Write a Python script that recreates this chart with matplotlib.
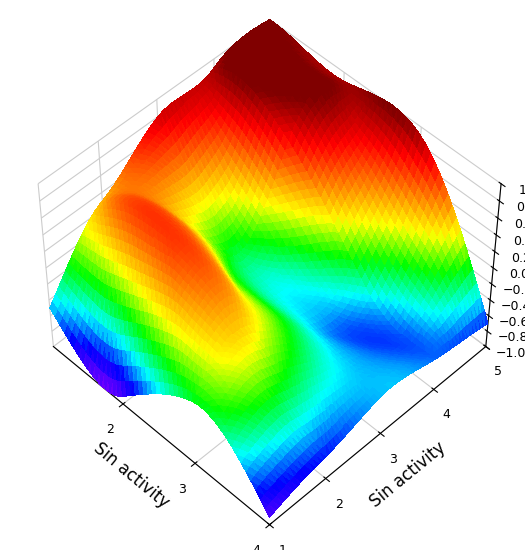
import numpy as np
import matplotlib
matplotlib.use("Agg")
import matplotlib.pyplot as plt
import matplotlib.tri as mtri
from matplotlib.colors import LinearSegmentedColormap

x_vals = [1, 2, 3, 4]
y_vals = [1, 2, 3, 4, 5]
z_vals = [
    [-0.5, 0.3, 0.8, 0.9, 1.0],
    [-0.9, 0.6, -0.2, 0.7, 0.9],
    [-0.2, 0.2, -0.4, -0.3, 0.9],
    [-0.9, -0.7, -0.5, -0.6, -0.7],
]
z_ticks = [-1.0, -0.8, -0.6, -0.4, -0.2, 0.0, 0.2, 0.4, 0.6, 0.8, 1.0]

cmap = LinearSegmentedColormap.from_list("c", ["#8000ff", "#0000ff", "#00ffff", "#00ff00", "#ffff00", "#ff8000", "#ff0000", "#800000"])

X, Y = np.meshgrid(x_vals, y_vals, indexing="ij")
Z = np.array(z_vals)
tri = mtri.Triangulation(X.ravel().astype(float), Y.ravel().astype(float))
refiner = mtri.UniformTriRefiner(tri)
tri_f, z_f = refiner.refine_field(Z.ravel().astype(float), subdiv=4)

fig = plt.figure(figsize=(5.25, 5.5), dpi=100)
ax = fig.add_axes([0.0, 0.0, 1.0, 1.0], projection="3d")
ax.plot_trisurf(tri_f.x, tri_f.y, z_f, triangles=tri_f.triangles, cmap=cmap,
                vmin=-1, vmax=1, linewidth=0, antialiased=False)
ax.view_init(elev=50, azim=-45)
ax.set_box_aspect((1, 1, 0.8), zoom=0.95)
ax.set_xlim(1, 4); ax.set_ylim(1, 5); ax.set_zlim(-1, 1)
ax.set_xticks([2, 3, 4]); ax.set_yticks(y_vals); ax.set_zticks(z_ticks)
ax.set_xlabel("Sin activity", fontsize=12)
ax.set_ylabel("Sin activity", fontsize=12)
ax.set_zlabel("Anti-tuberculosis activity", fontsize=10)
ax.tick_params(labelsize=9)
for a in (ax.xaxis, ax.yaxis, ax.zaxis):
    a.set_pane_color((1, 1, 1, 0))
    a._axinfo["grid"]["color"] = (0.8, 0.8, 0.8, 1)
fig.savefig("out.png")
